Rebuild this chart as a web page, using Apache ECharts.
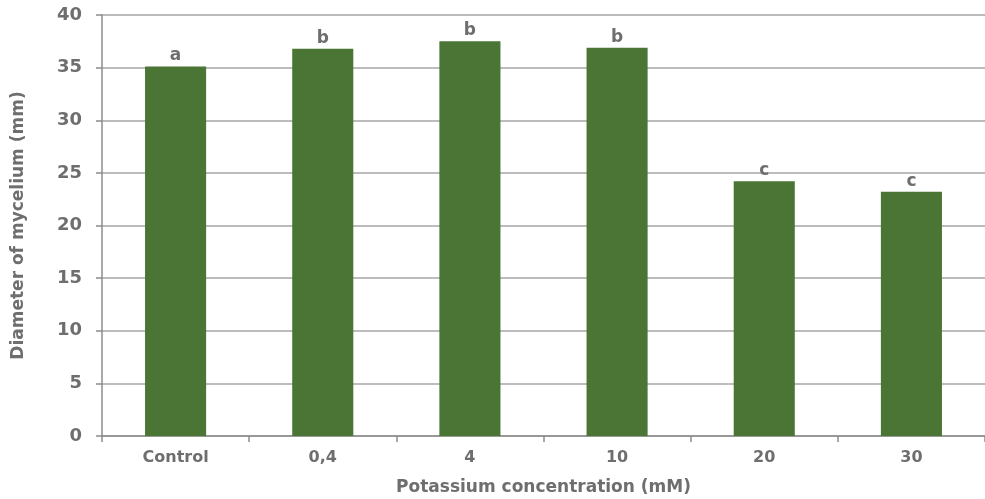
<!DOCTYPE html>
<html><head><meta charset="utf-8">
<script src="https://cdn.jsdelivr.net/npm/echarts@6/dist/echarts.min.js"></script>
<style>html,body{margin:0;padding:0;background:#fff}#c{width:985px;height:499px}</style>
</head><body><div id="c"></div>
<script>
const categories = ['Control', '0,4', '4', '10', '20', '30'];
const values = [35.1, 36.8, 37.5, 36.9, 24.2, 23.2];
const letters = ['a', 'b', 'b', 'b', 'c', 'c'];
const yTicks = [0, 5, 10, 15, 20, 25, 30, 35, 40];

const grey = '#6e6e6e';
const font = 'DejaVu Sans';
const chart = echarts.init(document.getElementById('c'), null, {renderer: 'canvas'});
chart.setOption({
  animation: false,
  grid: {left: 102, right: 0, top: 15, bottom: 63, containLabel: false, outerBoundsMode: 'none'},
  xAxis: {
    type: 'category', data: categories,
    name: 'Potassium concentration (mM)', nameLocation: 'middle', nameGap: 43,
    nameTextStyle: {color: grey, fontFamily: font, fontWeight: 'bold', fontSize: 17},
    axisLine: {lineStyle: {color: '#8c8c8c', width: 1.5}},
    axisTick: {show: true, length: 6, alignWithLabel: false, lineStyle: {color: '#8c8c8c', width: 1.5}},
    axisLabel: {color: grey, fontFamily: font, fontWeight: 'bold', fontSize: 16, margin: 14}
  },
  yAxis: {
    type: 'value', min: yTicks[0], max: yTicks[yTicks.length - 1], interval: 5,
    name: 'Diameter of mycelium (mm)', nameLocation: 'middle', nameGap: 75,
    nameTextStyle: {color: grey, fontFamily: font, fontWeight: 'bold', fontSize: 17},
    axisLine: {show: true, lineStyle: {color: '#8c8c8c', width: 1.5}},
    axisTick: {show: true, length: 6, lineStyle: {color: '#8c8c8c', width: 1.5}},
    axisLabel: {color: grey, fontFamily: font, fontWeight: 'bold', fontSize: 18, margin: 20},
    splitLine: {lineStyle: {color: '#a6a6a6', width: 1.5}}
  },
  series: [{
    type: 'bar', data: values, barWidth: '41.5%',
    itemStyle: {color: '#4a7535'},
    label: {
      show: true, position: 'top', distance: 2,
      color: grey, fontFamily: font, fontWeight: 'bold', fontSize: 17,
      formatter: p => letters[p.dataIndex]
    }
  }]
});
</script></body></html>
